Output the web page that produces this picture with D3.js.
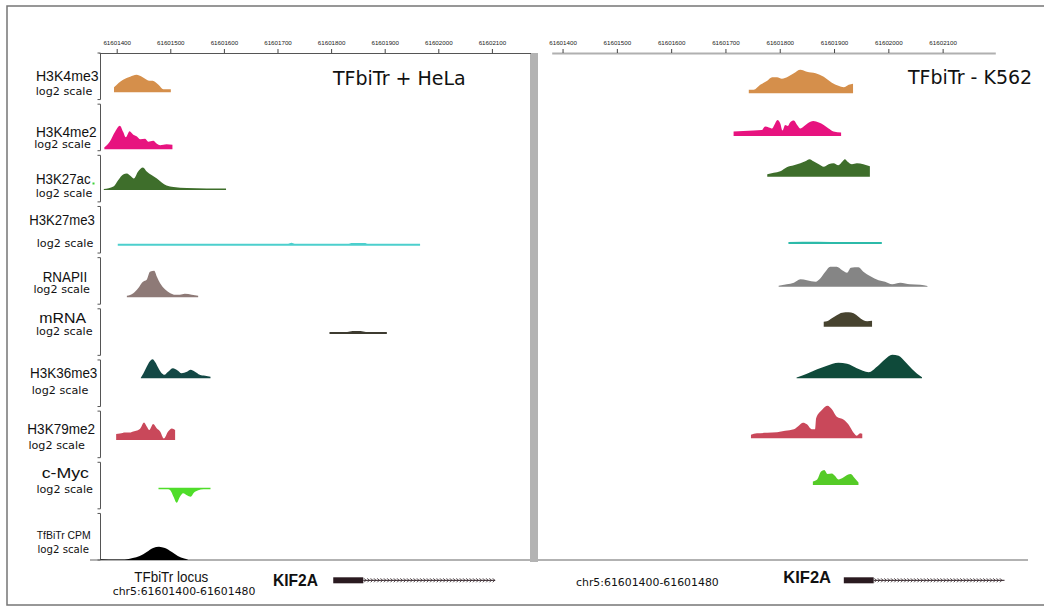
<!DOCTYPE html>
<html>
<head>
<meta charset="utf-8">
<script src="https://cdn.jsdelivr.net/npm/d3@7"></script>
<style>
  html, body { margin: 0; padding: 0; background: #fff; }
  svg { display: block; }
</style>
</head>
<body>
<svg id="chart" width="1044" height="611"></svg>
<script>
// ---- genomic reference ----
const origin = 61601400;                 // coordinates below are bp offsets from this position
const tickLabels = [61601400, 61601500, 61601600, 61601700, 61601800, 61601900, 61602000, 61602100];
const trackNames = ["H3K4me3", "H3K4me2", "H3K27ac", "H3K27me3", "RNAPII", "mRNA",
                    "H3K36me3", "H3K79me2", "c-Myc", "TfBiTr CPM"];
const unitLabel = "log2 scale";
const panelTitles = ["TFbiTr + HeLa", "TFbiTr - K562"];
const locusLabel = "TFbiTr locus";
const regionLabel = "chr5:61601400-61601480";
const geneName = "KIF2A";

// ---- HeLa coverage: [bp offset, log2 signal] ----
const helaH3K4me3 = [[-5,1.0],[12,2.5],[25,3.1],[37,3.5],[47,3.1],[56,2.5],[61,2.3],[67,2.3],[78,1.5],[87,0.6],[101,0.6]];
const helaH3K4me2 = [[-23,0.4],[-13,1.5],[-3,3.5],[6,4.7],[12,3.5],[17,2.4],[24,3.6],[31,2.9],[37,2.6],[44,2.0],[53,2.1],[59,1.5],[68,1.7],[75,1.1],[81,0.8],[93,1.0],[104,0.9]];
const helaH3K27ac = [[-24,0.2],[-6,0.7],[3,2.0],[12,3.1],[19,3.3],[26,2.8],[32,2.3],[40,3.7],[49,4.5],[56,3.7],[65,3.0],[75,2.3],[84,1.5],[93,0.9],[106,0.6],[131,0.4],[168,0.3],[204,0.3]];
const helaH3K27me3 = [[2,0.4],[320,0.4],[326,0.6],[332,0.4],[430,0.4],[440,0.55],[462,0.55],[470,0.4],[566,0.4]];
const helaRNAPII = [[19,0.3],[31,0.8],[40,1.8],[49,3.1],[56,3.5],[62,5.1],[70,5.3],[75,4.1],[81,2.8],[90,1.6],[100,0.8],[109,0.5],[118,0.5],[127,0.7],[140,0.5],[152,0.3]];
const helaMRNA = [[397,0.4],[430,0.4],[440,0.6],[455,0.6],[465,0.4],[504,0.4]];
const helaH3K36me3 = [[45,0.1],[50,1.0],[56,2.3],[62,3.4],[67,3.8],[72,3.2],[78,2.0],[84,1.0],[89,0.7],[96,1.3],[105,2.0],[113,1.6],[121,1.0],[131,1.3],[138,1.7],[146,1.3],[155,0.7],[165,0.5],[175,0.3]];
const helaH3K79me2 = [[-1,1.2],[6,1.3],[16,1.5],[25,1.5],[31,1.7],[38,1.9],[44,2.3],[51,3.5],[56,2.7],[61,2.0],[68,3.2],[75,2.3],[81,1.7],[88,0.3],[96,1.7],[103,2.3],[109,2.0]];
const helaCMyc = [[78,-0.3],[96,-0.3],[100,-0.5],[106,-1.8],[112,-3.0],[118,-1.8],[124,-1.1],[131,-1.5],[138,-1.8],[144,-1.0],[152,-0.5],[162,-0.3],[175,-0.3]];
const helaTfBiTr = [[-30,0.15],[0,0.1],[15,0.1],[30,0.4],[43,0.8],[56,1.6],[68,2.4],[79,2.67],[90,2.4],[103,1.6],[114,0.8],[126,0.3],[133,0.06]];

// ---- K562 coverage: [bp offset, log2 signal] ----
const k562H3K4me3 = [[343,0.7],[352,0.7],[364,1.7],[377,2.5],[386,3.2],[395,3.2],[404,2.9],[415,3.3],[426,4.0],[438,4.7],[450,4.3],[466,4.0],[481,3.3],[496,2.1],[508,1.5],[518,1.2],[527,1.7],[535,1.9]];
const k562H3K4me2 = [[315,0.9],[333,1.0],[352,1.1],[367,1.2],[373,1.9],[380,1.7],[386,1.5],[390,2.2],[396,3.2],[401,2.5],[405,1.1],[410,2.2],[415,2.0],[419,2.7],[426,3.1],[432,2.2],[438,1.5],[444,1.9],[451,2.5],[462,3.0],[472,2.7],[481,2.2],[490,1.5],[499,0.9],[513,0.7]];
const k562H3K27ac = [[377,0.5],[389,0.8],[401,1.1],[413,1.9],[426,2.3],[438,2.7],[447,3.1],[455,3.5],[462,3.1],[472,2.5],[481,2.0],[490,2.5],[499,2.7],[508,2.3],[515,3.0],[520,3.5],[525,3.0],[533,2.5],[542,2.7],[554,2.5],[566,2.1]];
const k562H3K27me3 = [[416,0.4],[470,0.45],[520,0.4],[588,0.4]];
const k562RNAPII = [[398,0.2],[413,0.5],[426,0.8],[438,1.5],[450,1.3],[466,1.0],[475,1.7],[484,3.0],[493,4.0],[505,4.0],[515,3.3],[524,2.8],[531,3.8],[545,3.9],[554,3.0],[567,2.1],[582,1.3],[594,1.0],[607,0.5],[622,0.8],[640,0.5],[659,0.4],[672,0.15]];
const k562MRNA = [[481,1.0],[487,1.1],[496,1.7],[505,2.3],[515,2.8],[527,2.9],[536,2.7],[545,2.0],[554,1.3],[561,1.1],[570,1.2]];
const k562H3K36me3 = [[431,0.14],[450,0.9],[469,1.8],[487,2.5],[508,3.1],[524,2.9],[542,2.0],[564,1.2],[579,2.3],[594,3.8],[607,4.7],[619,4.5],[631,3.3],[644,1.8],[653,0.9],[662,0.2]];
const k562H3K79me2 = [[347,0.7],[358,1.0],[377,1.1],[395,1.2],[410,1.5],[426,1.8],[435,2.5],[443,3.1],[450,2.8],[459,1.8],[465,1.8],[467,4.0],[478,5.7],[488,6.5],[496,5.8],[505,4.3],[518,3.7],[527,2.7],[536,1.1],[542,0.5],[548,1.0],[552,0.9]];
const k562CMyc = [[461,0.7],[469,1.1],[476,2.7],[482,3.0],[488,2.2],[496,2.3],[502,1.8],[508,1.1],[517,1.5],[524,2.0],[531,2.2],[537,1.5],[545,0.5]];

// ---- KIF2A gene model: [start, end of thick block, end] as bp offsets ----
const helaGene = [404, 460, 706];
const k562Gene = [518, 573, 814];

const helaTracks = [helaH3K4me3, helaH3K4me2, helaH3K27ac, helaH3K27me3, helaRNAPII, helaMRNA,
                    helaH3K36me3, helaH3K79me2, helaCMyc, helaTfBiTr];
const k562Tracks = [k562H3K4me3, k562H3K4me2, k562H3K27ac, k562H3K27me3, k562RNAPII, k562MRNA,
                    k562H3K36me3, k562H3K79me2, k562CMyc];

// ---- styling ----
const helaColors = ["#d58f4b", "#e7137f", "#3e6e2b", "#4ccfcd", "#8e7a77", "#3d3b30",
                    "#134845", "#c9485a", "#4fdd2a", "#000000"];
const k562Colors = ["#d58f4b", "#e7137f", "#3e6e2b", "#2cbaa9", "#858585", "#47432f",
                    "#0f4a3a", "#c9485a", "#55cb27"];

// per-track layout: signal baselines (HeLa, K562), label anchors and fitted label widths
const trackLayout = [
  { base: [92.3, 93.3],  nameX: 67.3, nameY: 80.7,  nameW: 62.7, logX: 64,   logY: 95    },
  { base: [149.3, 136],  nameX: 66.3, nameY: 136.7, nameW: 60.7, logX: 62.5, logY: 148.3 },
  { base: [190, 176.7],  nameX: 63.3, nameY: 184,   nameW: 54.7, logX: 64,   logY: 196.7 },
  { base: [245.7, 244],  nameX: 62,   nameY: 225,   nameW: 65.7, logX: 65,   logY: 246.5 },
  { base: [297.3, 286.7],nameX: 65,   nameY: 281.7, nameW: 44.6, logX: 61.7, logY: 293   },
  { base: [334, 326.7],  nameX: 62.7, nameY: 323.3, nameW: 46.7, logX: 64.3, logY: 335   },
  { base: [378.3, 378.3],nameX: 63.7, nameY: 378.3, nameW: 67.3, logX: 60,   logY: 394   },
  { base: [440, 438.3],  nameX: 61.2, nameY: 434,   nameW: 67.7, logX: 56.7, logY: 449   },
  { base: [487.7, 485],  nameX: 65.3, nameY: 478.3, nameW: 47.3, logX: 64.7, logY: 493   },
  { base: [560, null],   nameX: 63.7, nameY: 539,   nameW: 54,   logX: 63.2, logY: 553   }
];

const svg = d3.select("#chart");
const W = 1044, H = 611;
const axisY = 53, bottomY = 560;

// outer frame
svg.append("rect").attr("x", 7).attr("y", 6).attr("width", W).attr("height", 599)
  .attr("fill", "none").attr("stroke", "#767676").attr("stroke-width", 1.5);

// horizontal scales for the two panels
const xHela = d3.scaleLinear().domain([61601367, 61602172]).range([99, 530.5]);
const xK562 = d3.scaleLinear().domain([61601380, 61602197]).range([551.7, 995.3]);
// signal height (px per log2 unit)
const hScale = d3.scaleLinear().domain([0, 1]).range([0, 5]);

// track rows (left brackets)
const rows = d3.scaleBand().domain(trackNames).range([axisY, bottomY]).paddingInner(0.09);
svg.append("g").selectAll("path").data(trackNames).join("path")
  .attr("d", n => {
    const t = rows(n), b = t + rows.bandwidth();
    return `M97.5,${t}H100.5V${b}H97.5`;
  })
  .attr("fill", "none").attr("stroke", "#555").attr("stroke-width", 1);

// bottom rule
svg.append("line").attr("x1", 90).attr("x2", 1028).attr("y1", bottomY).attr("y2", bottomY)
  .attr("stroke", "#666").attr("stroke-width", 1.2);

// separator between panels
svg.append("rect").attr("x", 530).attr("y", axisY).attr("width", 8).attr("height", 509).attr("fill", "#b3b3b3");

// coordinate axes
function drawAxis(x, domainColor, domainWidth) {
  const g = svg.append("g").attr("transform", `translate(0,${axisY})`)
    .call(d3.axisTop(x).tickValues(tickLabels).tickFormat(d3.format("d"))
      .tickSize(4).tickSizeOuter(0).tickPadding(4));
  g.select(".domain").attr("stroke", domainColor).attr("stroke-width", domainWidth);
  g.selectAll(".tick line").attr("stroke", "#444");
  g.selectAll(".tick text").attr("font-family", "Liberation Sans, Arial, sans-serif")
    .attr("font-size", 6.2).attr("fill", "#222");
}
drawAxis(xHela, "#555", 1);
drawAxis(xK562, "#b0b0b0", 2);

// coverage areas
function drawTracks(x, tracks, colors, panelIdx) {
  const g = svg.append("g");
  tracks.forEach((data, i) => {
    const base = trackLayout[i].base[panelIdx];
    const area = d3.area()
      .x(d => x(origin + d[0]))
      .y0(base)
      .y1(d => base - hScale(d[1]))
      .curve(d3.curveMonotoneX);
    g.append("path").datum(data).attr("d", area).attr("fill", colors[i]);
  });
}
drawTracks(xHela, helaTracks, helaColors, 0);
drawTracks(xK562, k562Tracks, k562Colors, 1);

// track labels
const labels = svg.append("g").attr("text-anchor", "middle").attr("fill", "#111");
trackNames.forEach((n, i) => {
  const L = trackLayout[i];
  const small = i === trackNames.length - 1;
  labels.append("text").attr("x", L.nameX).attr("y", L.nameY)
    .attr("font-family", "Liberation Sans, Arial, sans-serif")
    .attr("font-size", small ? 10.5 : 15.5)
    .attr("textLength", L.nameW).attr("lengthAdjust", "spacingAndGlyphs")
    .text(n);
  labels.append("text").attr("x", L.logX).attr("y", L.logY)
    .attr("font-family", "DejaVu Sans, sans-serif")
    .attr("font-size", small ? 10.2 : 11.2)
    .text(unitLabel);
});
// green marker after the H3K27ac label
svg.append("rect").attr("x", 92.5).attr("y", 182.5).attr("width", 2).attr("height", 2).attr("fill", "#3fd13a");

// panel titles
svg.append("text").attr("x", 333).attr("y", 85).attr("font-family", "DejaVu Sans, sans-serif")
  .attr("font-size", 19).attr("fill", "#111").text(panelTitles[0]);
svg.append("text").attr("x", 908).attr("y", 84).attr("font-family", "DejaVu Sans, sans-serif")
  .attr("font-size", 19).attr("fill", "#111").text(panelTitles[1]);

// locus annotations under the panels
svg.append("text").attr("x", 171.3).attr("y", 581.7).attr("text-anchor", "middle")
  .attr("font-family", "Liberation Sans, Arial, sans-serif").attr("font-size", 15)
  .attr("textLength", 74).attr("lengthAdjust", "spacingAndGlyphs").attr("fill", "#111").text(locusLabel);
svg.append("text").attr("x", 112.7).attr("y", 595).attr("font-family", "DejaVu Sans, sans-serif")
  .attr("font-size", 10.9).attr("fill", "#111").text(regionLabel);
svg.append("text").attr("x", 576).attr("y", 586).attr("font-family", "DejaVu Sans, sans-serif")
  .attr("font-size", 10.9).attr("fill", "#111").text(regionLabel);

// gene models
function drawGene(x, gene, labelX, labelY, labelW) {
  const y = 580.3;
  const g = svg.append("g");
  g.append("text").attr("x", labelX).attr("y", labelY)
    .attr("font-family", "Liberation Sans, Arial, sans-serif").attr("font-weight", "bold")
    .attr("font-size", 16.5).attr("textLength", labelW).attr("lengthAdjust", "spacingAndGlyphs")
    .attr("fill", "#111").text(geneName);
  const [s, t, e] = gene.map(d => x(origin + d));
  g.append("rect").attr("x", s).attr("y", y - 3).attr("width", t - s).attr("height", 6).attr("fill", "#2a1a20");
  g.append("line").attr("x1", t).attr("x2", e).attr("y1", y).attr("y2", y)
    .attr("stroke", "#2a1a20").attr("stroke-width", 1);
  const chevrons = d3.range(t + 2, e - 1, 3.3);
  g.append("path")
    .attr("d", chevrons.map(cx => `M${cx - 1.2},${y - 2}L${cx + 0.8},${y}L${cx - 1.2},${y + 2}`).join(""))
    .attr("fill", "none").attr("stroke", "#2a1a20").attr("stroke-width", 0.8);
}
drawGene(xHela, helaGene, 273, 586, 45);
drawGene(xK562, k562Gene, 783.3, 583.3, 47.7);
</script>
</body>
</html>
